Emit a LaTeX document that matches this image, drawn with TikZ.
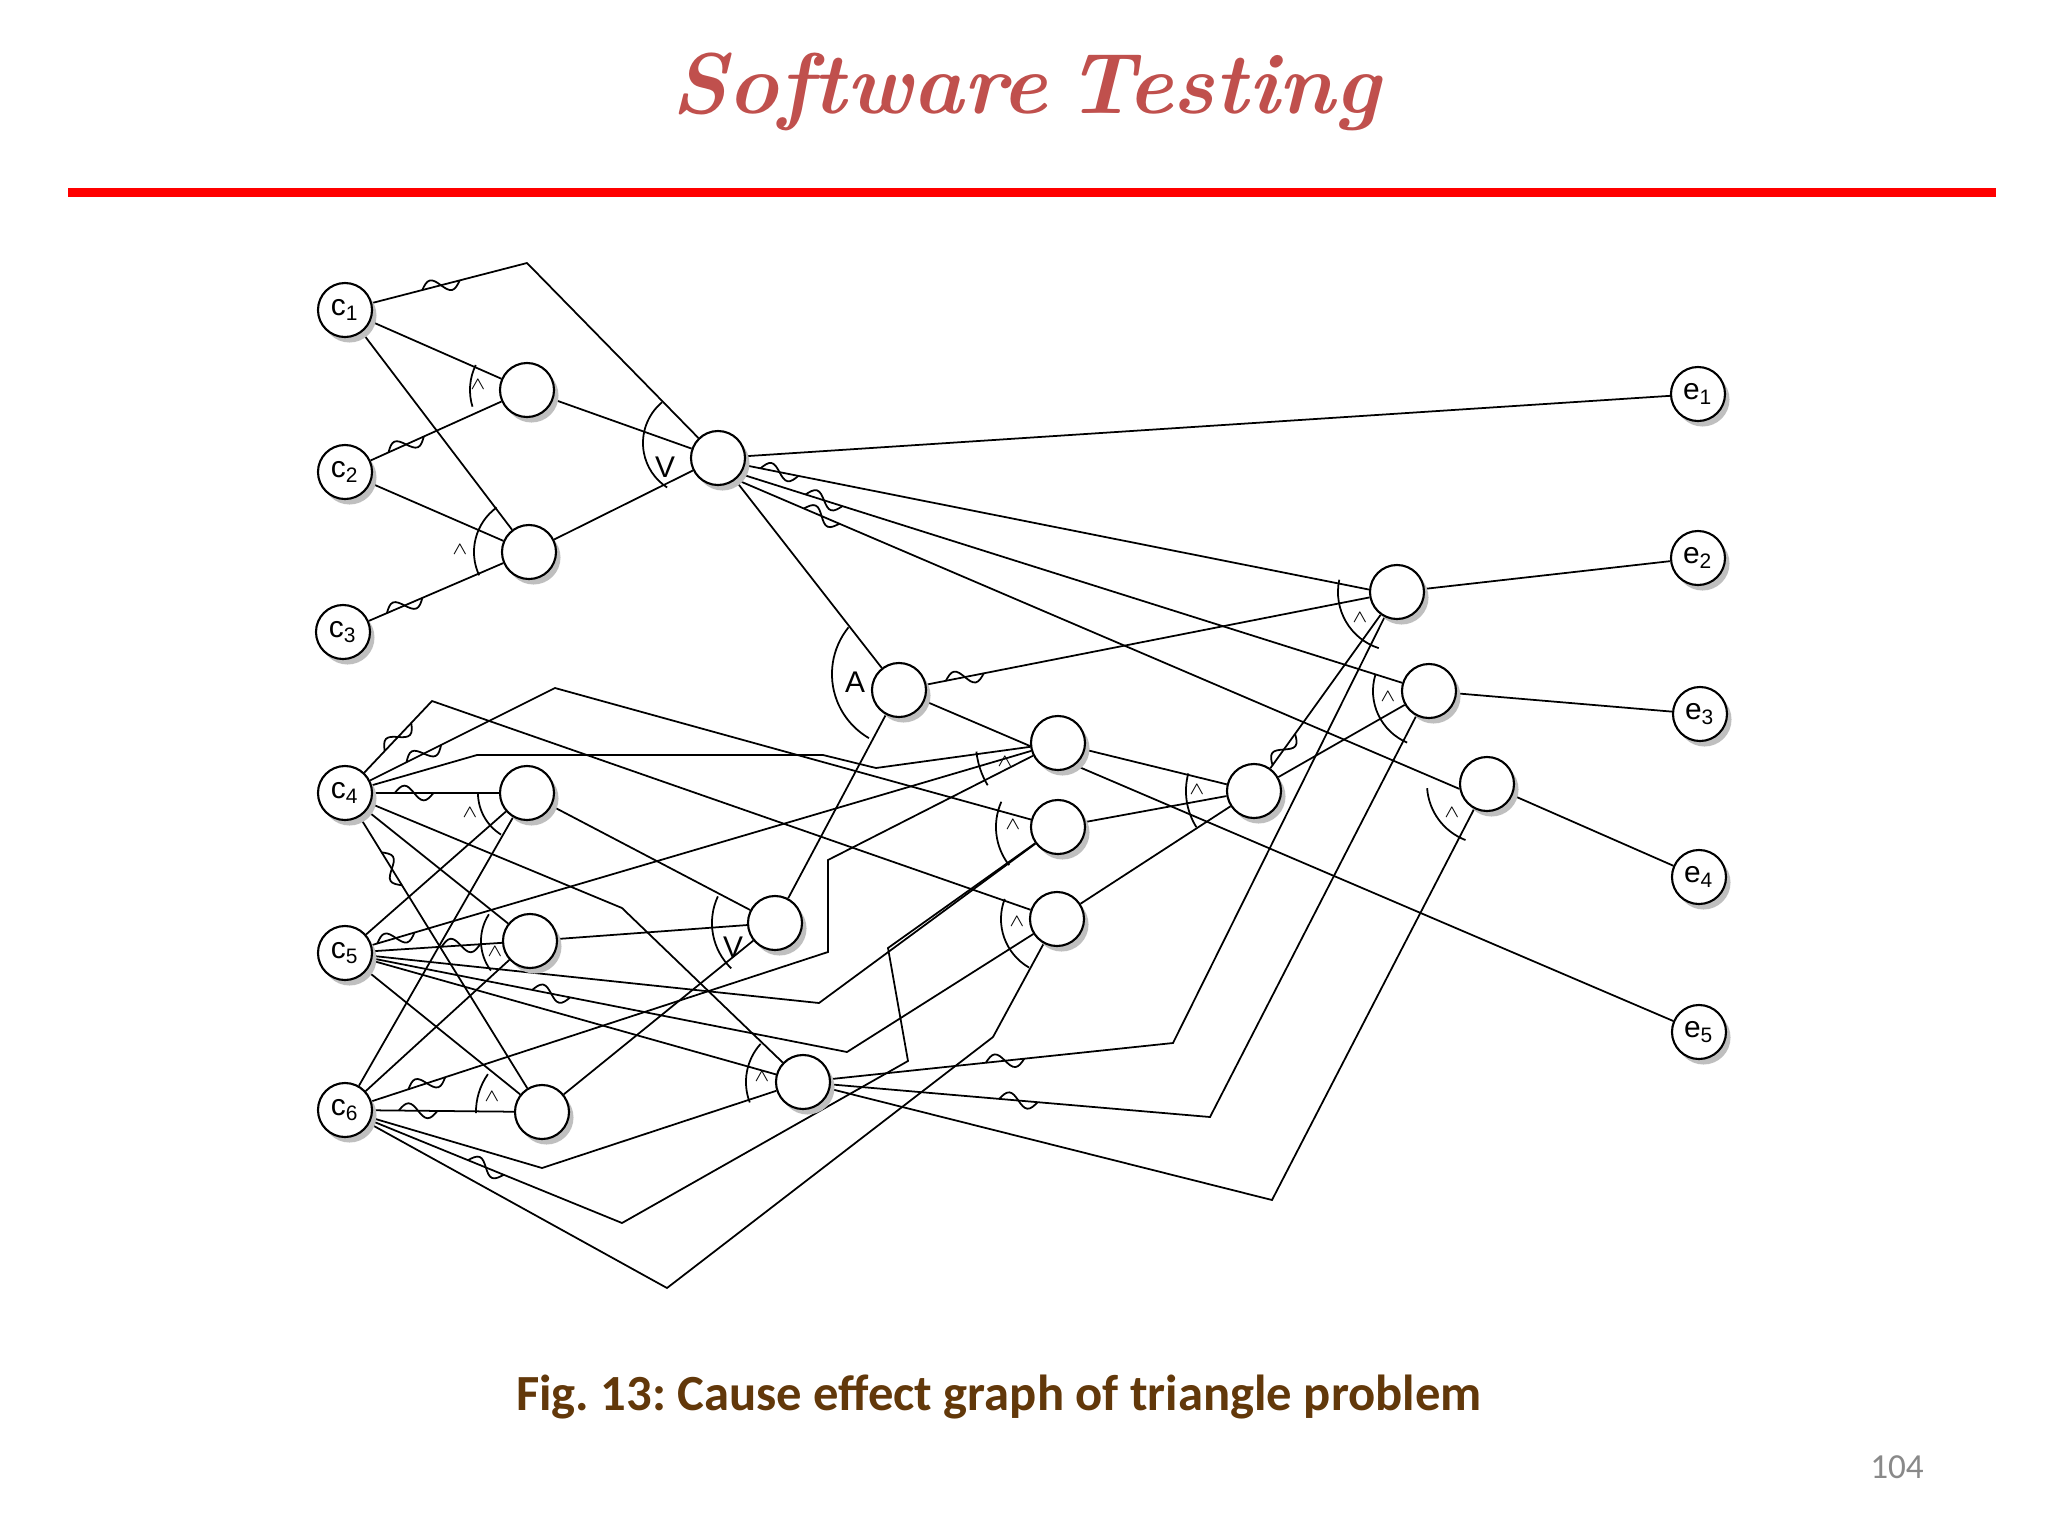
\documentclass[tikz,border=0pt]{standalone}
\usepackage{fontspec}
\setsansfont{Liberation Sans}
\newfontfamily\carlito{Carlito}
\usepackage{xcolor}
\usepackage{tikz}
\usetikzlibrary{positioning,calc,backgrounds,shadows,decorations.markings}
\definecolor{TitleRed}{RGB}{192,80,77}
\definecolor{FigBrown}{RGB}{98,56,10}
\definecolor{PageGray}{RGB}{137,137,137}
\tikzset{
    cenode/.style={circle, draw=black, fill=white, line width=0.6pt, minimum size=0.54cm, inner sep=0pt,
        font=\sffamily\fontsize{8.5}{9}\selectfont,
        drop shadow={shadow xshift=0.045cm, shadow yshift=-0.055cm, fill=black!25, opacity=1}},
    wire/.style={draw=black, line width=0.5pt},
    negate/.style={postaction={decorate, decoration={markings,
        mark=at position #1 with {\draw[line width=0.5pt] (-5.5pt,0) sin (-2.75pt,2.1pt) cos (0pt,0) sin (2.75pt,-2.1pt) cos (5.5pt,0);}}}},
    gatelbl/.style={inner sep=0pt, font=\fontsize{5.5}{6}\selectfont},
    gatebig/.style={inner sep=0pt, font=\sffamily\fontsize{8.5}{9}\selectfont}
}
\newcommand{\gatearc}[4]{\draw[wire] (#1) ++(#2:#4) arc[start angle=#2, end angle=#3, radius=#4];}

\begin{document}
\frenchspacing
\begin{tikzpicture}[x=0.01cm, y=-0.01cm]
    \useasboundingbox (0,0) rectangle (2048,1536);

    % 1. header and footer
    \node[font=\bfseries\itshape\fontsize{24.5}{28}\selectfont, text=TitleRed] (title) at (1026,92) {Software\hspace{0.22em}Testing};
    \draw[red, line width=0.09cm] (68,192) -- (1996,192);
    \node[font=\carlito\bfseries\fontsize{14.4}{17}\selectfont, text=FigBrown] (caption) at (999,1397) {Fig. 13: Cause effect graph of triangle problem};
    \node[font=\carlito\fontsize{10}{12}\selectfont, text=PageGray] (page) at (1897,1467) {104};

    % 2. causes, effects, inner nodes
    \node[cenode] (c1) at (345,310) {c\textsubscript{1}};
    \node[cenode] (c2) at (345,472) {c\textsubscript{2}};
    \node[cenode] (c3) at (343,632) {c\textsubscript{3}};
    \node[cenode] (c4) at (345,793) {c\textsubscript{4}};
    \node[cenode] (c5) at (345,953) {c\textsubscript{5}};
    \node[cenode] (c6) at (345,1110) {c\textsubscript{6}};
    \node[cenode] (e1) at (1698,394) {e\textsubscript{1}};
    \node[cenode] (e2) at (1698,558) {e\textsubscript{2}};
    \node[cenode] (e3) at (1700,714) {e\textsubscript{3}};
    \node[cenode] (e4) at (1699,877) {e\textsubscript{4}};
    \node[cenode] (e5) at (1699,1032) {e\textsubscript{5}};

    \node[cenode] (n1) at (527,390) {};
    \node[cenode] (n2) at (529,552) {};
    \node[cenode] (n3) at (718,458) {};
    \node[cenode] (nA) at (899,690) {};
    \node[cenode] (n4) at (1058,743) {};
    \node[cenode] (n5) at (1058,827) {};
    \node[cenode] (n6) at (1057,919) {};
    \node[cenode] (n7) at (1254,791) {};
    \node[cenode] (n8) at (1397,592) {};
    \node[cenode] (n9) at (1429,691) {};
    \node[cenode] (n10) at (1487,784) {};
    \node[cenode] (L1) at (527,793) {};
    \node[cenode] (L2) at (530,941) {};
    \node[cenode] (L3) at (542,1112) {};
    \node[cenode] (V2) at (775,923) {};
    \node[cenode] (n11) at (803,1082) {};

    % bends
    \coordinate (k1) at (527,263);
    \coordinate (k2) at (432,701);
    \coordinate (k3) at (555,688);
    \coordinate (k4) at (477,755);
    \coordinate (k5) at (823,755);
    \coordinate (k6) at (876,768);
    \coordinate (k7) at (622,908);
    \coordinate (k8) at (819,1003);
    \coordinate (k9) at (847,1052);
    \coordinate (k10) at (828,952);
    \coordinate (k11) at (828,860);
    \coordinate (k12) at (542,1168);
    \coordinate (k13) at (622,1223);
    \coordinate (k14) at (908,1061);
    \coordinate (k15) at (888,948);
    \coordinate (k16) at (667,1288);
    \coordinate (k17) at (993,1037);
    \coordinate (k18) at (1173,1043);
    \coordinate (k19) at (1210,1117);
    \coordinate (k20) at (1272,1200);
    \coordinate (o3) at (696,443);
    \coordinate (oA) at (906,674);

    % 3. edges (behind the nodes)
    \begin{scope}[on background layer]
        \fill[white] (0,0) rectangle (2048,1536);
        \draw[wire, negate=0.71cm] (c1) -- (k1) -- (n3);
        \draw[wire] (c1) -- (n1);
        \draw[wire] (c1) -- (n2);
        \draw[wire, negate=0.39cm] (c2) -- (n1);
        \draw[wire] (c2) -- (n2);
        \draw[wire, negate=0.39cm] (c3) -- (n2);
        \draw[wire] (n1) -- (n3);
        \draw[wire] (n2) -- (n3);

        \draw[wire] (n3) -- (e1);
        \draw[wire, negate=0.35cm] (n3.-15) -- (n8.175);
        \draw[wire, negate=0.87cm] (n3.-35) -- (n9.163);
        \draw[wire, negate=0.93cm] (n3.-50) -- (n10.190);
        \draw[wire] (n3) -- (nA);

        \draw[wire, negate=0.49cm] (c4) -- (k2) -- (n6);
        \draw[wire, negate=0.60cm] (c4) -- (k3) -- (n5);
        \draw[wire] (c4) -- (k4) -- (k5) -- (k6) -- (n4);
        \draw[wire, negate=0.41cm] (c4) -- (L1);
        \draw[wire] (c4) -- (L2);
        \draw[wire, negate=0.61cm] (c4) -- (L3);
        \draw[wire] (c4) -- (k7) -- (n11);

        \draw[wire] (c5) -- (L1);
        \draw[wire, negate=0.25cm] (c5) -- (n4);
        \draw[wire, negate=0.88cm] (c5) -- (L2);
        \draw[wire] (c5) -- (L3);
        \draw[wire] (c5) -- (k8) -- (n5);
        \draw[wire, negate=1.82cm] (c5) -- (k9) -- (n6);
        \draw[wire] (c5) -- (n11);

        \draw[wire] (c6) -- (L1);
        \draw[wire] (c6) -- (L2);
        \draw[wire, negate=0.45cm] (c6) -- (L3);
        \draw[wire, negate=0.58cm] (c6) -- (k10) -- (k11) -- (n4);
        \draw[wire] (c6) -- (k12) -- (n11);
        \draw[wire, negate=1.24cm] (c6) -- (k13) -- (k14) -- (k15) -- (n5);
        \draw[wire] (c6) -- (k16) -- (k17) -- (n6);

        \draw[wire] (L1) -- (V2);
        \draw[wire] (L2) -- (V2);
        \draw[wire] (L3) -- (V2);
        \draw[wire] (V2) -- (nA);
        \draw[wire] (nA) -- (e5);
        \draw[wire, negate=0.39cm] (nA) -- (n8);

        \draw[wire] (n4) -- (n7);
        \draw[wire] (n5) -- (n7);
        \draw[wire] (n6) -- (n7);
        \draw[wire, negate=0.23cm] (n7) -- (n8);
        \draw[wire] (n7) -- (n9);
        \draw[wire, negate=1.75cm] (n11) -- (k18) -- (n8);
        \draw[wire, negate=1.88cm] (n11) -- (k19) -- (n9);
        \draw[wire] (n11) -- (k20) -- (n10);

        \draw[wire] (n8) -- (e2);
        \draw[wire] (n9) -- (e3);
        \draw[wire] (n10) -- (e4);
    \end{scope}

    % 4. gate arcs and marks
    \gatearc{n1.center}{154}{197}{0.57cm}
    \gatearc{n2.center}{126}{205}{0.55cm}
    \gatearc{o3}{130}{237}{0.53cm}
    \gatearc{oA}{141}{240}{0.74cm}
    \gatearc{n4.center}{186}{211}{0.82cm}
    \gatearc{n5.center}{156}{218}{0.62cm}
    \gatearc{n6.center}{159}{240}{0.56cm}
    \gatearc{n7.center}{165}{212}{0.68cm}
    \gatearc{n8.center}{168}{252}{0.59cm}
    \gatearc{n9.center}{163}{247}{0.56cm}
    \gatearc{n10.center}{184}{249}{0.60cm}
    \gatearc{L1.center}{181}{238}{0.49cm}
    \gatearc{L2.center}{147}{217}{0.49cm}
    \gatearc{L3.center}{145}{181}{0.66cm}
    \gatearc{V2.center}{155}{226}{0.63cm}
    \gatearc{n11.center}{138}{201}{0.57cm}

    \node[gatelbl] (g1) at (478,385) {$\wedge$};
    \node[gatelbl] (g2) at (460,550) {$\wedge$};
    \node[gatebig] (g3) at (665,467) {V};
    \node[gatebig] (gA) at (855,682) {A};
    \node[gatelbl] (g4) at (1005,762) {$\wedge$};
    \node[gatelbl] (g5) at (1013,825) {$\wedge$};
    \node[gatelbl] (g6) at (1017,922) {$\wedge$};
    \node[gatelbl] (g7) at (1197,790) {$\wedge$};
    \node[gatelbl] (g8) at (1360,618) {$\wedge$};
    \node[gatelbl] (g9) at (1388,697) {$\wedge$};
    \node[gatelbl] (g10) at (1452,813) {$\wedge$};
    \node[gatelbl] (gL1) at (470,813) {$\wedge$};
    \node[gatelbl] (gL2) at (495,952) {$\wedge$};
    \node[gatelbl] (gL3) at (492,1097) {$\wedge$};
    \node[gatebig] (gV2) at (733,947) {V};
    \node[gatelbl] (g11) at (762,1077) {$\wedge$};
\end{tikzpicture}
\end{document}
